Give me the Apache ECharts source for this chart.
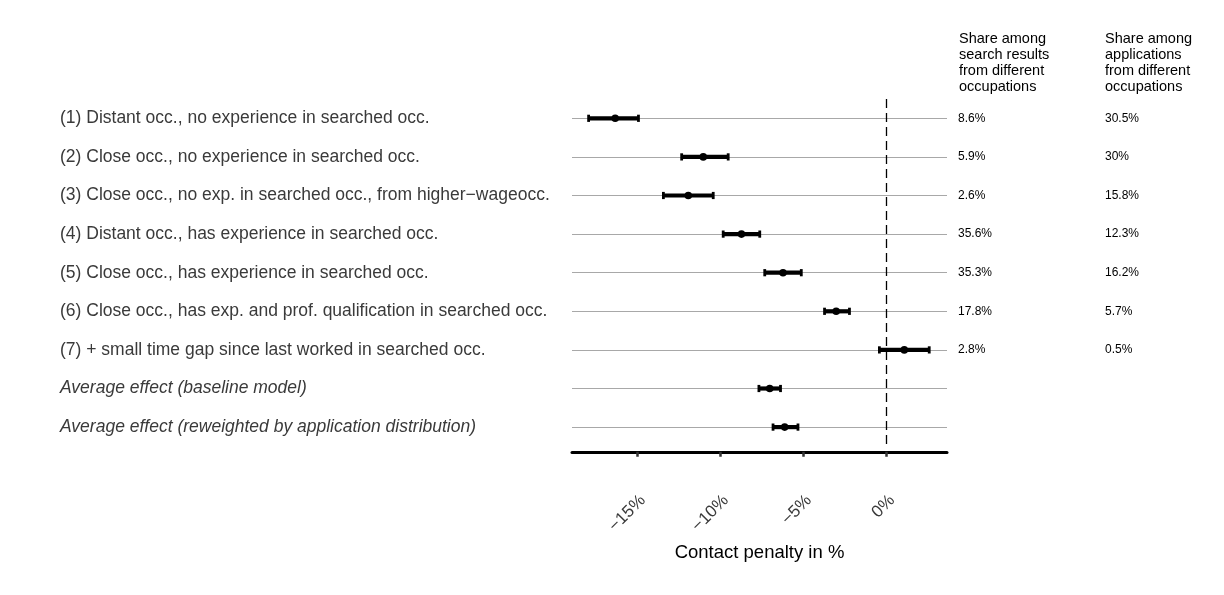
<!DOCTYPE html>
<html>
<head>
<meta charset="utf-8">
<script src="https://cdn.jsdelivr.net/npm/echarts@6/dist/echarts.min.js"></script>
<style>
  html, body { margin: 0; padding: 0; background: #fff; }
  #main { width: 1224px; height: 595px; }
</style>
</head>
<body>
<div id="main"></div>
<script>
var categories = [
    "(1) Distant occ., no experience in searched occ.",
    "(2) Close occ., no experience in searched occ.",
    "(3) Close occ., no exp. in searched occ., from higher\u2212wageocc.",
    "(4) Distant occ., has experience in searched occ.",
    "(5) Close occ., has experience in searched occ.",
    "(6) Close occ., has exp. and prof. qualification in searched occ.",
    "(7) + small time gap since last worked in searched occ.",
    "Average effect (baseline model)",
    "Average effect (reweighted by application distribution)"
];
var italicRows = [7, 8];
var estimates = [-16.3, -11.0, -11.9, -8.7, -6.2, -3.0, 1.1, -7.0, -6.1];
var lower = [-17.9, -12.3, -13.4, -9.8, -7.3, -3.7, -0.4, -7.65, -6.8];
var upper = [-14.9, -9.5, -10.4, -7.6, -5.1, -2.2, 2.6, -6.35, -5.3];
var searchShare = ["8.6%", "5.9%", "2.6%", "35.6%", "35.3%", "17.8%", "2.8%", "", ""];
var applicationShare = ["30.5%", "30%", "15.8%", "12.3%", "16.2%", "5.7%", "0.5%", "", ""];
var tickValues = [-15, -10, -5, 0];
var headerSearch = "Share among\nsearch results\nfrom different\noccupations";
var headerApplication = "Share among\napplications\nfrom different\noccupations";

var chart = echarts.init(document.getElementById("main"));

var rows = [];
for (var i = 0; i < categories.length; i++) {
    rows.push([i, lower[i], estimates[i], upper[i]]);
}

// whisker + point for each row, positioned via the axes
function renderErrorBar(params, api) {
    var row = api.value(0);
    var lo = api.coord([api.value(1), row]);
    var mid = api.coord([api.value(2), row]);
    var hi = api.coord([api.value(3), row]);
    var half = 2.1;
    var cap = 3.6;
    return {
        type: "group",
        children: [
            { type: "rect", shape: { x: lo[0], y: lo[1] - half, width: hi[0] - lo[0], height: half * 2 }, style: { fill: "#000" } },
            { type: "rect", shape: { x: lo[0] - 1.4, y: lo[1] - cap, width: 2.8, height: cap * 2 }, style: { fill: "#000" } },
            { type: "rect", shape: { x: hi[0] - 1.4, y: hi[1] - cap, width: 2.8, height: cap * 2 }, style: { fill: "#000" } },
            { type: "circle", shape: { cx: mid[0], cy: mid[1], r: 3.8 }, style: { fill: "#000" } }
        ]
    };
}

var rowLines = [];
for (var j = 0; j < categories.length; j++) {
    rowLines.push({ yAxis: j });
}

var option = {
    animation: false,
    backgroundColor: "#fff",
    textStyle: { fontFamily: "Liberation Sans, Arial, sans-serif" },
    title: [
        {
            text: headerSearch,
            left: 959,
            top: 31,
            padding: 0,
            textStyle: { fontSize: 14.5, fontWeight: "normal", color: "#000", lineHeight: 16 }
        },
        {
            text: headerApplication,
            left: 1105,
            top: 31,
            padding: 0,
            textStyle: { fontSize: 14.5, fontWeight: "normal", color: "#000", lineHeight: 16 }
        }
    ],
    grid: {
        left: 572,
        right: 277,
        top: 99,
        height: 347.4
    },
    xAxis: {
        type: "value",
        min: -18.9,
        max: 3.67,
        offset: 5.4,
        name: "Contact penalty in %",
        nameLocation: "middle",
        nameGap: 92,
        nameTextStyle: { fontSize: 18.5, color: "#000" },
        splitLine: { show: false },
        axisLine: { show: true, lineStyle: { color: "#000", width: 3 } },
        axisTick: {
            show: true,
            customValues: tickValues,
            length: 5,
            lineStyle: { color: "#333", width: 2.5 }
        },
        axisLabel: {
            customValues: tickValues,
            rotate: 45,
            margin: 40,
            verticalAlign: "top",
            fontSize: 17,
            color: "#3a3a3a",
            formatter: function (v) {
                return (v < 0 ? "\u2212" + Math.abs(v) : v) + "%";
            }
        }
    },
    yAxis: [
        {
            type: "category",
            data: categories,
            inverse: true,
            axisLine: { show: false },
            axisTick: { show: false },
            splitLine: { show: false },
            axisLabel: {
                align: "left",
                margin: 512,
                formatter: function (value, idx) {
                    return italicRows.indexOf(idx) >= 0 ? "{it|" + value + "}" : "{n|" + value + "}";
                },
                rich: {
                    n: { fontSize: 17.5, color: "#3a3a3a" },
                    it: { fontSize: 17.5, color: "#3a3a3a", fontStyle: "italic" }
                }
            }
        },
        {
            type: "category",
            data: categories,
            inverse: true,
            position: "right",
            axisLine: { show: false },
            axisTick: { show: false },
            splitLine: { show: false },
            axisLabel: {
                align: "left",
                margin: 11,
                formatter: function (value, idx) {
                    return "{a|" + searchShare[idx] + "}{b|" + applicationShare[idx] + "}";
                },
                rich: {
                    a: { fontSize: 12, color: "#000", width: 147 },
                    b: { fontSize: 12, color: "#000" }
                }
            }
        }
    ],
    series: [
        {
            type: "line",
            data: [],
            silent: true,
            z: 1,
            markLine: {
                z: 1,
                silent: true,
                symbol: "none",
                label: { show: false },
                lineStyle: { color: "#a8a8a8", width: 1, type: "solid" },
                data: rowLines
            }
        },
        {
            type: "line",
            data: [],
            silent: true,
            z: 2,
            markLine: {
                z: 2,
                silent: true,
                symbol: "none",
                label: { show: false },
                lineStyle: { color: "#000", width: 1.3, type: [9, 5] },
                data: [{ xAxis: 0 }]
            }
        },
        {
            type: "custom",
            z: 10,
            renderItem: renderErrorBar,
            encode: { x: [1, 2, 3], y: 0 },
            data: rows
        }
    ]
};

chart.setOption(option);
</script>
</body>
</html>
